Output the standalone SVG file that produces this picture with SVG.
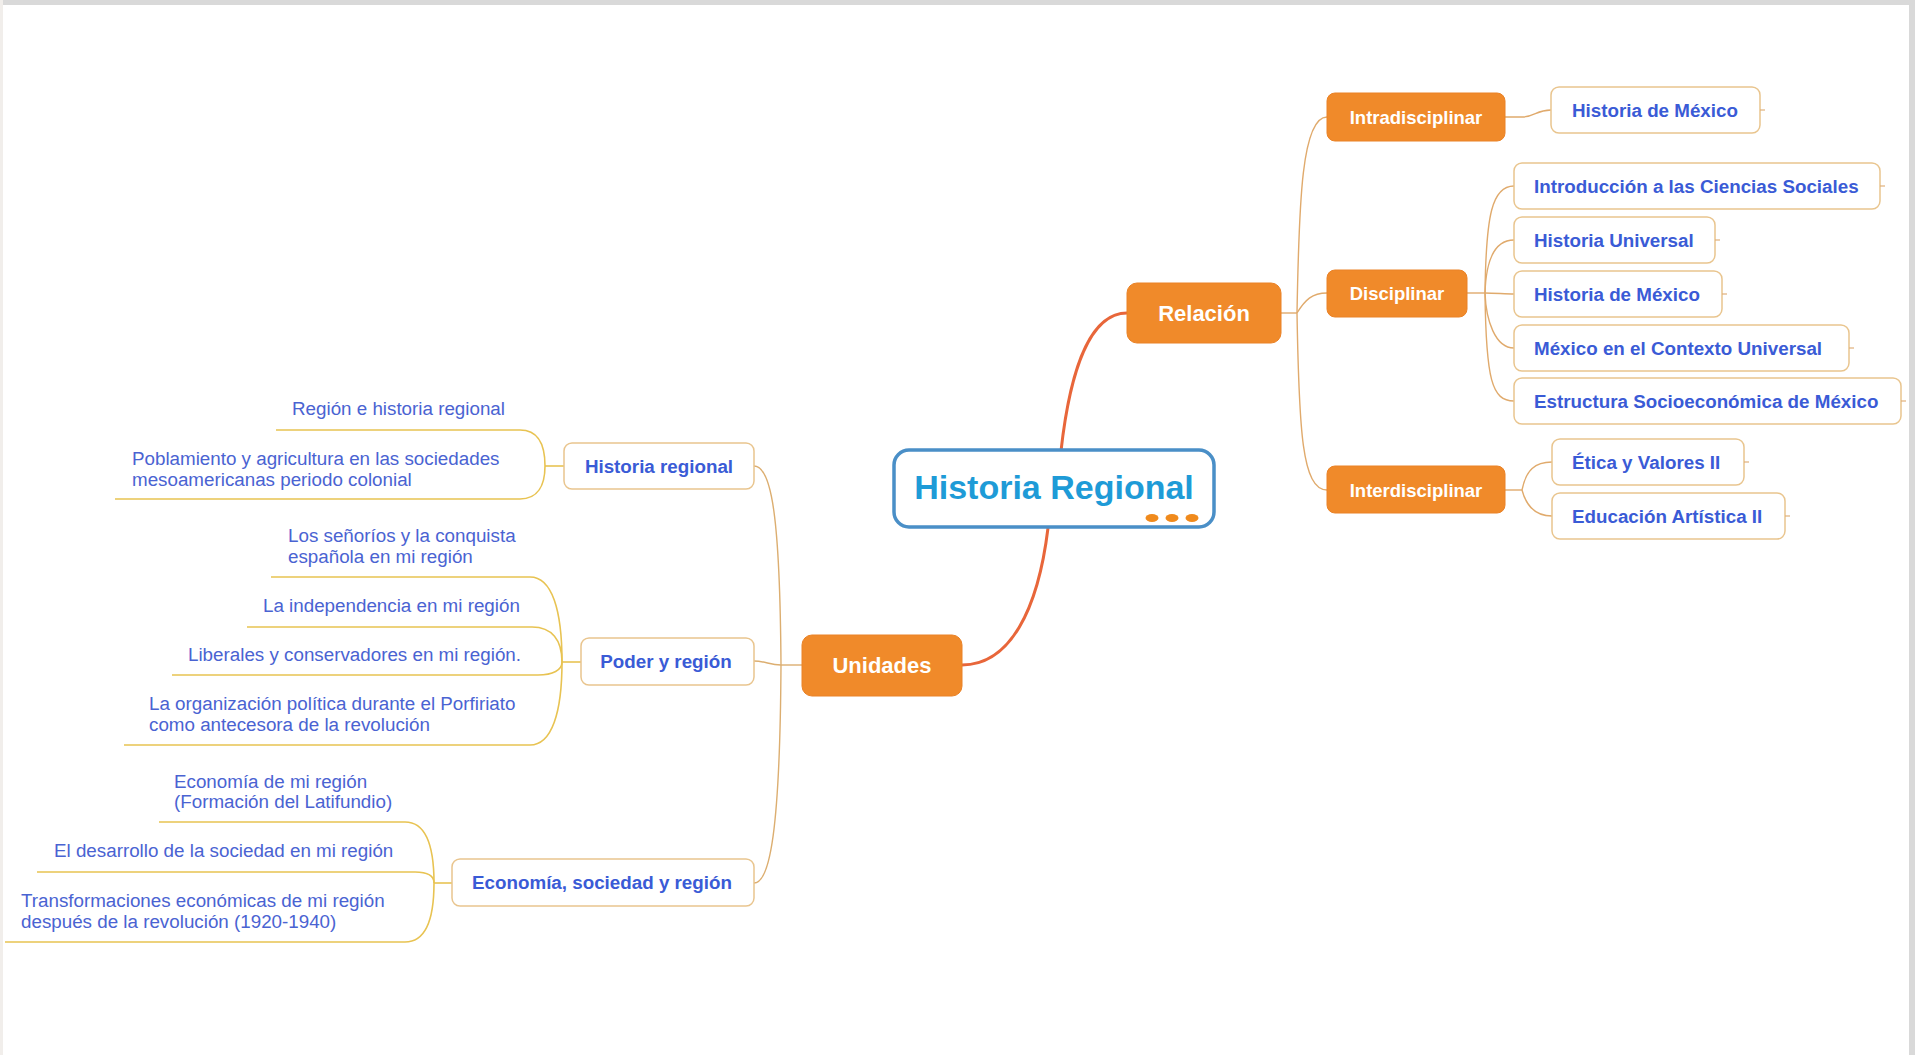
<svg xmlns="http://www.w3.org/2000/svg" width="1915" height="1055" viewBox="0 0 1915 1055">
<style>
.main{stroke:#e8663a;stroke-width:3;fill:none;stroke-linecap:round}
.br{stroke:#e0aa6c;stroke-width:1.4;fill:none}
.lb{stroke:#dcae70;stroke-width:1.4;fill:none}
.ul{stroke:#e8c352;stroke-width:1.6;fill:none}
.org{fill:#f08a2a;stroke:#ea8226;stroke-width:1}
.otx{fill:#ffffff;font-family:"Liberation Sans",Arial,sans-serif;font-weight:bold;text-anchor:middle}
.leaf{fill:#ffffff;stroke:#e9c58e;stroke-width:1.5}
.ltx{fill:#3a5bd6;font-family:"Liberation Sans",Arial,sans-serif;font-weight:bold;font-size:18.8px}
.stx{fill:#4a63d2;font-family:"Liberation Sans",Arial,sans-serif;font-size:18.8px}
.stub{stroke:#e0b07a;stroke-width:1.2}
</style>
<rect width="1915" height="1055" fill="#ffffff"/>
<rect x="0" y="0" width="1915" height="5" fill="#d9d9d9"/>
<rect x="1909" y="0" width="6" height="1055" fill="#d9d9d9"/>
<rect x="0" y="0" width="3" height="1055" fill="#f1eeeb"/>

<g id="connectors">
<path class="main" d="M1061,451 C1070,370 1090,313 1127,313"/>
<path class="main" d="M1048,528 C1038,610 1010,665 962,665"/>
<path class="br" d="M1281,313 L1297,313"/>
<path class="br" d="M1297,313 C1299,200 1302,117 1327,117"/>
<path class="br" d="M1297,313 C1305,300 1312,293 1327,293"/>
<path class="br" d="M1297,313 C1299,430 1302,490 1327,490"/>
<path class="br" d="M1505,117 L1522,117 C1535,117 1536,110 1551,110"/>
<path class="br" d="M1467,293 L1485,293"/>
<path class="br" d="M1485,293 C1486,215 1492,186 1514,186"/>
<path class="br" d="M1485,293 C1486,260 1495,240 1514,240"/>
<path class="br" d="M1485,293 C1495,293 1505,294 1514,294"/>
<path class="br" d="M1485,293 C1486,320 1495,348 1514,348"/>
<path class="br" d="M1485,293 C1486,380 1492,401 1514,401"/>
<path class="br" d="M1505,490 L1522,490"/>
<path class="br" d="M1522,490 C1526,470 1535,462 1552,462"/>
<path class="br" d="M1522,490 C1526,505 1535,516 1552,516"/>
<path class="lb" d="M802,665 L781,665"/>
<path class="lb" d="M781,665 C780,520 772,466 754,466"/>
<path class="lb" d="M781,665 C770,665 765,661 754,661"/>
<path class="lb" d="M781,665 C780,830 770,883 754,883"/>
<path class="ul" d="M564,466 L545,466"/>
<path class="ul" d="M545,466 C545,445 538,430 520,430 L276,430"/>
<path class="ul" d="M545,466 C545,485 538,499 520,499 L115,499"/>
<path class="ul" d="M581,662 L562,662"/>
<path class="ul" d="M562,662 C562,610 552,577 530,577 L271,577"/>
<path class="ul" d="M562,662 C562,640 552,627 532,627 L247,627"/>
<path class="ul" d="M562,662 C562,670 553,675 538,675 L172,675"/>
<path class="ul" d="M562,662 C562,712 552,745 530,745 L124,745"/>
<path class="ul" d="M452,883 L434,883"/>
<path class="ul" d="M434,883 C434,845 425,822 405,822 L159,822"/>
<path class="ul" d="M434,883 C434,876 428,872 415,872 L37,872"/>
<path class="ul" d="M434,883 C434,920 425,942 405,942 L5,942"/>
</g>

<g id="central">
<rect x="894" y="450" width="320" height="77" rx="15" fill="#ffffff" stroke="#4a8fc7" stroke-width="3.5"/>
<text x="1054" y="499" text-anchor="middle" font-family="Liberation Sans, Arial, sans-serif" font-weight="bold" font-size="34" fill="#1e9bd7">Historia Regional</text>
<ellipse cx="1152" cy="518" rx="6.5" ry="4" fill="#f08a1c"/>
<ellipse cx="1172" cy="518" rx="6.5" ry="4" fill="#f08a1c"/>
<ellipse cx="1192" cy="518" rx="6.5" ry="4" fill="#f08a1c"/>
</g>

<g id="relacion">
<rect class="org" x="1127" y="283" width="154" height="60" rx="10"/>
<text class="otx" x="1204" y="321" font-size="22">Relación</text>
</g>
<g id="unidades">
<rect class="org" x="802" y="635" width="160" height="61" rx="10"/>
<text class="otx" x="882" y="673" font-size="22">Unidades</text>
</g>

<g id="intradisciplinar">
<rect class="org" x="1327" y="93" width="178" height="48" rx="8"/>
<text class="otx" x="1416" y="124" font-size="18.5">Intradisciplinar</text>
</g>
<g id="disciplinar">
<rect class="org" x="1327" y="270" width="140" height="47" rx="8"/>
<text class="otx" x="1397" y="300" font-size="18.5">Disciplinar</text>
</g>
<g id="interdisciplinar">
<rect class="org" x="1327" y="466" width="178" height="47" rx="8"/>
<text class="otx" x="1416" y="497" font-size="18.5">Interdisciplinar</text>
</g>

<g id="intra-historia-mexico">
<rect class="leaf" x="1551" y="87" width="209" height="46" rx="8"/>
<line class="stub" x1="1760" y1="110" x2="1765" y2="110"/>
<text class="ltx" x="1572" y="116.5">Historia de México</text>
</g>
<g id="intro-ciencias-sociales">
<rect class="leaf" x="1514" y="163" width="366" height="46" rx="8"/>
<line class="stub" x1="1880" y1="186" x2="1885" y2="186"/>
<text class="ltx" x="1534" y="192.5">Introducción a las Ciencias Sociales</text>
</g>
<g id="historia-universal">
<rect class="leaf" x="1514" y="217" width="201" height="46" rx="8"/>
<line class="stub" x1="1715" y1="240" x2="1720" y2="240"/>
<text class="ltx" x="1534" y="246.5">Historia Universal</text>
</g>
<g id="disc-historia-mexico">
<rect class="leaf" x="1514" y="271" width="208" height="46" rx="8"/>
<line class="stub" x1="1722" y1="294" x2="1727" y2="294"/>
<text class="ltx" x="1534" y="300.5">Historia de México</text>
</g>
<g id="mexico-contexto-universal">
<rect class="leaf" x="1514" y="325" width="335" height="46" rx="8"/>
<line class="stub" x1="1849" y1="348" x2="1854" y2="348"/>
<text class="ltx" x="1534" y="354.5">México en el Contexto Universal</text>
</g>
<g id="estructura-socioeconomica">
<rect class="leaf" x="1514" y="378" width="387" height="46" rx="8"/>
<line class="stub" x1="1901" y1="401" x2="1906" y2="401"/>
<text class="ltx" x="1534" y="407.5">Estructura Socioeconómica de México</text>
</g>
<g id="etica-valores">
<rect class="leaf" x="1552" y="439" width="192" height="46" rx="8"/>
<line class="stub" x1="1744" y1="462" x2="1749" y2="462"/>
<text class="ltx" x="1572" y="468.5">Ética y Valores II</text>
</g>
<g id="educacion-artistica">
<rect class="leaf" x="1552" y="493" width="233" height="46" rx="8"/>
<line class="stub" x1="1785" y1="516" x2="1790" y2="516"/>
<text class="ltx" x="1572" y="522.5">Educación Artística II</text>
</g>

<g id="historia-regional">
<rect class="leaf" x="564" y="443" width="190" height="46" rx="8"/>
<text class="ltx" x="659" y="472.5" text-anchor="middle">Historia regional</text>
</g>
<g id="poder-region">
<rect class="leaf" x="581" y="638" width="173" height="47" rx="8"/>
<text class="ltx" x="666" y="668" text-anchor="middle">Poder y región</text>
</g>
<g id="economia-sociedad-region">
<rect class="leaf" x="452" y="859" width="302" height="47" rx="8"/>
<text class="ltx" x="602" y="889" text-anchor="middle">Economía, sociedad y región</text>
</g>

<g id="region-historia-regional">
<text class="stx" x="292" y="415">Región e historia regional</text>
</g>
<g id="poblamiento">
<text class="stx" x="132" y="465">Poblamiento y agricultura en las sociedades</text>
<text class="stx" x="132" y="486">mesoamericanas periodo colonial</text>
</g>
<g id="senorios">
<text class="stx" x="288" y="542">Los señoríos y la conquista</text>
<text class="stx" x="288" y="563">española en mi región</text>
</g>
<g id="independencia">
<text class="stx" x="263" y="612">La independencia en mi región</text>
</g>
<g id="liberales">
<text class="stx" x="188" y="661">Liberales y conservadores en mi región.</text>
</g>
<g id="porfiriato">
<text class="stx" x="149" y="710">La organización política durante el Porfiriato</text>
<text class="stx" x="149" y="731">como antecesora de la revolución</text>
</g>
<g id="economia-latifundio">
<text class="stx" x="174" y="788">Economía de mi región</text>
<text class="stx" x="174" y="808">(Formación del Latifundio)</text>
</g>
<g id="desarrollo-sociedad">
<text class="stx" x="54" y="857">El desarrollo de la sociedad en mi región</text>
</g>
<g id="transformaciones">
<text class="stx" x="21" y="907">Transformaciones económicas de mi región</text>
<text class="stx" x="21" y="928">después de la revolución (1920-1940)</text>
</g>
</svg>
